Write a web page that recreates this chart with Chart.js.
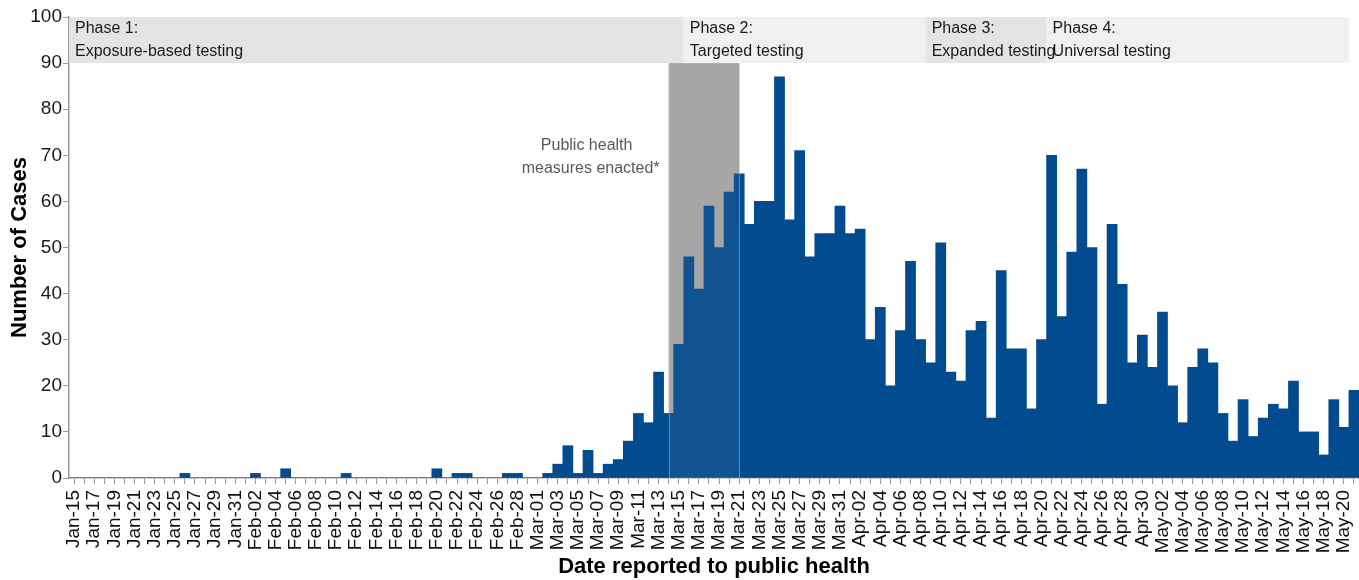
<!DOCTYPE html>
<html>
<head>
<meta charset="utf-8">
<script src="https://cdn.jsdelivr.net/npm/chart.js@4.4.1/dist/chart.umd.min.js"></script>
<style>
  html, body { margin: 0; padding: 0; background: #fff; }
</style>
</head>
<body>
<canvas id="chart" width="1359" height="580"></canvas>
<script>
// month, first day, last day shown on the axis
const monthSpans = [["Jan", 15, 31], ["Feb", 1, 29], ["Mar", 1, 31], ["Apr", 1, 30], ["May", 1, 21]];
const dates = [];
monthSpans.forEach(([m, first, last]) => {
  for (let d = first; d <= last; d++) dates.push(m + "-" + String(d).padStart(2, "0"));
});

// daily case counts
const janCases = [0, 0, 0, 0, 0, 0, 0, 0, 0, 0, 0, 1, 0, 0, 0, 0, 0];
const febCases = [0, 1, 0, 0, 2, 0, 0, 0, 0, 0, 1, 0, 0, 0, 0, 0, 0, 0, 0, 2, 0, 1, 1, 0, 0, 0, 1, 1, 0];
const marCases = [0, 1, 3, 7, 1, 6, 1, 3, 4, 8, 14, 12, 23, 14, 29, 48, 41, 59, 50, 62, 66, 55, 60, 60, 87, 56, 71, 48, 53, 53, 59];
const aprCases = [53, 54, 30, 37, 20, 32, 47, 30, 25, 51, 23, 21, 32, 34, 13, 45, 28, 28, 15, 30, 70, 35, 49, 67, 50, 16, 55, 42, 25, 31];
const mayCases = [24, 36, 20, 12, 24, 28, 25, 14, 8, 17, 9, 13, 16, 15, 21, 10, 10, 5, 17, 11, 19];
const cases = [...janCases, ...febCases, ...marCases, ...aprCases, ...mayCases];

const yTicks = [0, 10, 20, 30, 40, 50, 60, 70, 80, 90, 100];

const phaseNames = ["Phase 1:", "Phase 2:", "Phase 3:", "Phase 4:"];
const phaseTesting = ["Exposure-based testing", "Targeted testing", "Expanded testing", "Universal testing"];
const phaseStarts = ["Jan-15", "Mar-16", "Apr-09", "Apr-21"];
const phaseLastDay = "May-20";
const measuresFrom = "Mar-14";
const measuresTo = "Mar-21";

const FONT = "'Liberation Sans', Arial, Helvetica, sans-serif";
const BAR_BLUE = "#024b8e";
const MEASURES_GREY = "#a6a6a6";
const bandColors = ["#e4e4e4", "#f0f0f0", "#e4e4e4", "#f0f0f0"];

const backdrop = {
  id: "backdrop",
  beforeDatasetsDraw(chart) {
    const { ctx, scales: { x, y } } = chart;
    const idx = (lbl) => dates.indexOf(lbl);
    const top = y.getPixelForValue(100);
    const bandBottom = y.getPixelForValue(90);
    ctx.save();
    const edges = phaseStarts.map((s) => x.getPixelForValue(idx(s) - 0.5));
    edges.push(x.getPixelForValue(idx(phaseLastDay) + 0.5));
    bandColors.forEach((c, k) => {
      ctx.fillStyle = c;
      ctx.fillRect(edges[k], top, edges[k + 1] - edges[k], bandBottom - top);
    });
    ctx.fillStyle = "#1a1a1a";
    ctx.font = "16px " + FONT;
    ctx.textBaseline = "middle";
    ctx.textAlign = "left";
    phaseNames.forEach((n, k) => {
      ctx.fillText(n, edges[k] + 6, top + 12);
      ctx.fillText(phaseTesting[k], edges[k] + 6, top + 35);
    });

    // public health measures box
    const gl = x.getPixelForValue(idx(measuresFrom));
    const gr = x.getPixelForValue(idx(measuresTo));
    ctx.fillStyle = MEASURES_GREY;
    ctx.fillRect(gl, bandBottom, gr - gl, y.getPixelForValue(0) - bandBottom);

    ctx.fillStyle = "#595959";
    ctx.textAlign = "center";
    ctx.fillText("Public health", gl - 82, y.getPixelForValue(72.2));
    ctx.fillText("measures enacted*", gl - 78, y.getPixelForValue(67.2));
    ctx.restore();
  },
  afterDatasetsDraw(chart) {
    const { ctx, scales: { x, y } } = chart;
    const gl = x.getPixelForValue(dates.indexOf(measuresFrom));
    const gr = x.getPixelForValue(dates.indexOf(measuresTo));
    const t = y.getPixelForValue(90);
    const b = y.getPixelForValue(0);
    ctx.save();
    ctx.fillStyle = "rgba(166,166,166,0.09)";
    ctx.fillRect(gl, t, gr - gl, b - t);
    ctx.strokeStyle = "rgba(190,190,190,0.5)";
    ctx.lineWidth = 1;
    [gl, gr].forEach((px) => {
      ctx.beginPath();
      ctx.moveTo(Math.round(px) + 0.5, t);
      ctx.lineTo(Math.round(px) + 0.5, b);
      ctx.stroke();
    });
    ctx.restore();
  }
};

const ctx = document.getElementById("chart").getContext("2d");
new Chart(ctx, {
  type: "bar",
  data: {
    labels: dates,
    datasets: [{
      label: "Number of Cases",
      data: cases,
      backgroundColor: BAR_BLUE,
      borderWidth: 0,
      barPercentage: 1,
      categoryPercentage: 1
    }]
  },
  plugins: [backdrop],
  options: {
    responsive: false,
    animation: false,
    devicePixelRatio: 1,
    layout: { padding: { top: 17, right: 0, bottom: 0, left: 0 } },
    plugins: {
      legend: { display: false },
      tooltip: { enabled: false }
    },
    scales: {
      x: {
        grid: {
          offset: false,
          drawOnChartArea: false,
          drawTicks: true,
          tickLength: 6,
          color: "#9a9a9a"
        },
        border: { display: true, color: "#9a9a9a", width: 1.5 },
        ticks: {
          autoSkip: false,
          maxRotation: 90,
          minRotation: 90,
          padding: 6,
          color: "#111",
          font: { size: 19, family: FONT },
          callback: (v, i) => (i % 2 === 0 ? dates[i] : "")
        },
        title: {
          display: true,
          text: "Date reported to public health",
          color: "#000",
          font: { size: 22, weight: "bold", family: FONT },
          padding: { top: 0, bottom: 0 }
        },
        afterFit: (scale) => {
          scale.height = 102;
          scale.paddingLeft = 0;
          scale.paddingRight = 0;
        }
      },
      y: {
        min: 0,
        max: 100,
        afterBuildTicks: (scale) => {
          scale.ticks = yTicks.map((v) => ({ value: v }));
        },
        grid: {
          drawOnChartArea: false,
          drawTicks: true,
          tickLength: 6,
          color: "#9a9a9a"
        },
        border: { display: true, color: "#9a9a9a", width: 1.5 },
        ticks: {
          padding: 1,
          color: "#1a1a1a",
          font: { size: 19, family: FONT }
        },
        title: {
          display: true,
          text: "Number of Cases",
          color: "#000",
          font: { size: 22, weight: "bold", family: FONT },
          padding: { top: 7, bottom: 0 }
        },
        afterFit: (scale) => {
          scale.width = 69;
        }
      }
    }
  }
});
</script>
</body>
</html>
